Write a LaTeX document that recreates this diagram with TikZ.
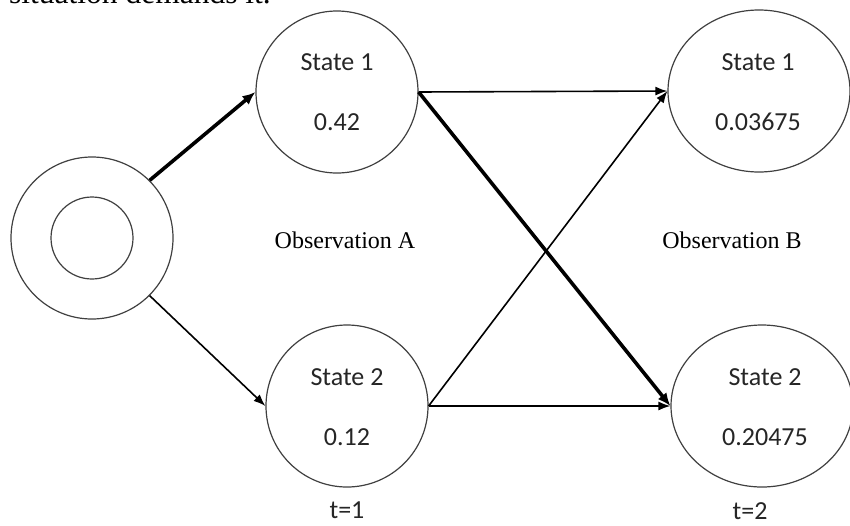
\documentclass[tikz,border=0pt]{standalone}
\usepackage{fontspec}
\setmainfont{Liberation Serif}
\newfontfamily\calib{Carlito}
\usetikzlibrary{shapes.geometric,arrows.meta}

\begin{document}
\begin{tikzpicture}[x=1pt,y=-1pt,
  statering/.style={draw=black!75,line width=1.2pt,circle,minimum size=162pt,inner sep=0pt},
  stateoval/.style={draw=black!75,line width=1.2pt,ellipse,minimum width=182pt,minimum height=162pt,inner sep=0pt},
  stlabel/.style={font=\calib\fontsize{26}{30}\selectfont,text=black!85,inner sep=0pt},
  obslabel/.style={font=\fontsize{24}{28}\selectfont,inner sep=0pt},
  thinarrow/.style={line width=1.6pt,-{Latex[length=12pt,width=9pt]}},
  thickarrow/.style={line width=3.6pt,-{Latex[length=13pt,width=11pt]}}
]
\useasboundingbox[fill=white] (0,0) rectangle (850,525);

% running text cut off at the top of the page
\node[anchor=base west,inner sep=0pt,font=\fontsize{31.5}{36}\selectfont] (caption) at (9,3) {situation demands it.};

% start node: double circle
\node[statering] (start) at (92,238) {};
\node[draw=black!75,line width=1.2pt,circle,minimum size=82pt,inner sep=0pt] (startin) at (92,238) {};

% states at t=1
\node[statering] (sa) at (337,92) {};
\node[statering] (sb) at (347,406) {};
% states at t=2
\node[stateoval] (sc) at (759,91) {};
\node[stateoval] (sd) at (762,406) {};

% state texts
\node[stlabel] (sat) at (337,62) {State 1};
\node[stlabel] (sav) at (337,122) {0.42};
\node[stlabel] (sbt) at (347,377) {State 2};
\node[stlabel] (sbv) at (347,437) {0.12};
\node[stlabel] (sct) at (758,62) {State 1};
\node[stlabel] (scv) at (758,122) {0.03675};
\node[stlabel] (sdt) at (765,377) {State 2};
\node[stlabel] (sdv) at (765,437) {0.20475};

% observations and time steps
\node[obslabel] (obsa) at (345,240) {Observation A};
\node[obslabel] (obsb) at (732,240) {Observation B};
\node[stlabel] (t1) at (347,510) {t=1};
\node[stlabel] (t2) at (750,511) {t=2};

% transitions
\draw[thickarrow] (start.45) -- (sa.west);
\draw[thinarrow] (start.-45) -- (sb.west);
\draw[thinarrow] (sa.east) -- (sc.west);
\draw[thinarrow] (sb.east) -- (sc.west);
\draw[thinarrow] (sb.east) -- (sd.west);
\draw[thickarrow] (sa.east) -- (sd.west);
\end{tikzpicture}
\end{document}
